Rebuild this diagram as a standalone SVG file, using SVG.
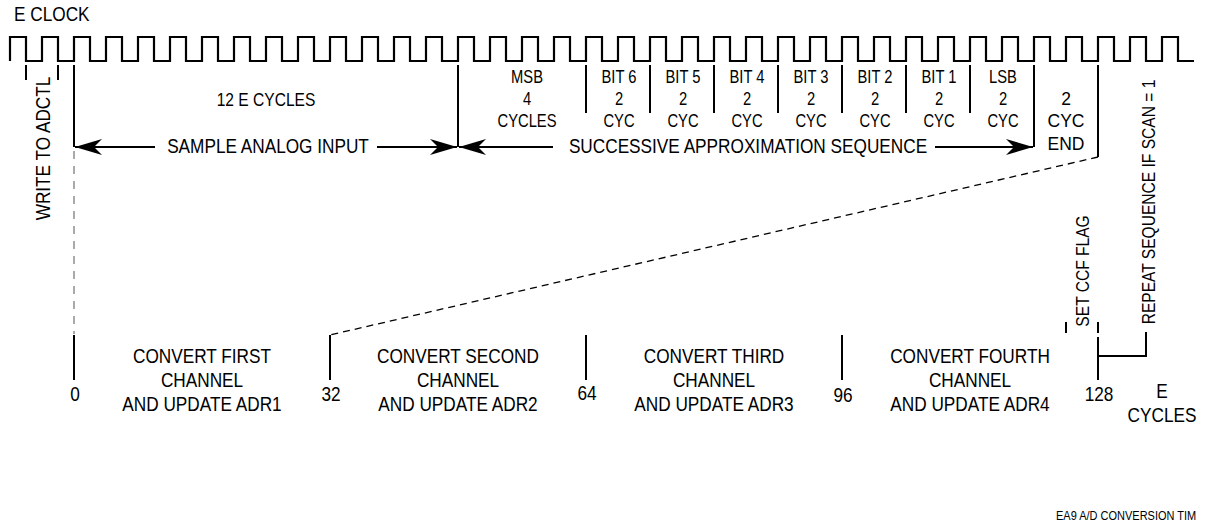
<svg xmlns="http://www.w3.org/2000/svg" width="1205" height="525" viewBox="0 0 1205 525">
<style>
text{font-family:"Liberation Sans",Arial,sans-serif;fill:#000}
.big{font-size:21px}
.sm{font-size:18px}
.mid{text-anchor:middle}
.reg{font-size:17.5px;text-anchor:middle}
.ln{stroke:#000;stroke-width:2;fill:none}
.clk{stroke:#000;stroke-width:2.2;fill:none}
.gray{stroke:#aaaaaa;stroke-width:2;stroke-dasharray:8 7;fill:none}
.dash{stroke:#000;stroke-width:1.3;stroke-dasharray:7 5;fill:none}
.arr{stroke:#000;stroke-width:2;fill:none;marker-end:url(#ah)}
</style>
<defs>
<marker id="ah" markerUnits="userSpaceOnUse" viewBox="-28 -9 29 18" refX="0" refY="0" markerWidth="29" markerHeight="18" orient="auto">
<path d="M0,0 L-27,-8 L-19,0 L-27,8 Z" fill="#000"/>
</marker>
</defs>

<g id="clock">
<text class="big" transform="translate(14,21) scale(0.82,1)">E CLOCK</text>
<path class="clk" d="M10,61 v-24 h16 v24 h16 v-24 h16 v24 h16 v-24 h16 v24 h16 v-24 h16 v24 h16 v-24 h16 v24 h16 v-24 h16 v24 h16 v-24 h16 v24 h16 v-24 h16 v24 h16 v-24 h16 v24 h16 v-24 h16 v24 h16 v-24 h16 v24 h16 v-24 h16 v24 h16 v-24 h16 v24 h16 v-24 h16 v24 h16 v-24 h16 v24 h16 v-24 h16 v24 h16 v-24 h16 v24 h16 v-24 h16 v24 h16 v-24 h16 v24 h16 v-24 h16 v24 h16 v-24 h16 v24 h16 v-24 h16 v24 h16 v-24 h16 v24 h16 v-24 h16 v24 h16 v-24 h16 v24 h16 v-24 h16 v24 h16 v-24 h16 v24 h16 v-24 h16 v24 h16 v-24 h16 v24 h16 v-24 h16 v24 h16 v-24 h16 v24 h16 v-24 h16 v24 h16 v-24 h16 v24 h16 v-24 h16 v24 h16 v-24 h16 v24 h16 v-24 h16 v24 h16 v-24 h16 v24 h16"/>
</g>

<g id="write-adctl">
<text class="big mid" transform="translate(50,148.5) rotate(-90) scale(0.82,1)">WRITE TO ADCTL</text>
</g>

<g id="sample">
<text class="mid" style="font-size:19px" transform="translate(266,106) scale(0.82,1)">12 E CYCLES</text>
<text class="big mid" transform="translate(268,153) scale(0.82,1)">SAMPLE ANALOG INPUT</text>
</g>

<g id="sar">
<text class="big mid" transform="translate(748,153) scale(0.82,1)">SUCCESSIVE APPROXIMATION SEQUENCE</text>
</g>

<g id="col-msb">
<text class="sm mid" transform="translate(527,83) scale(0.82,1)">MSB</text>
<text class="sm mid" transform="translate(527,105) scale(0.82,1)">4</text>
<text class="sm mid" transform="translate(527,127) scale(0.82,1)">CYCLES</text>
</g>
<g id="col-bit6">
<text class="sm mid" transform="translate(619,83) scale(0.82,1)">BIT 6</text>
<text class="sm mid" transform="translate(619,105) scale(0.82,1)">2</text>
<text class="sm mid" transform="translate(619,127) scale(0.82,1)">CYC</text>
</g>
<g id="col-bit5">
<text class="sm mid" transform="translate(683,83) scale(0.82,1)">BIT 5</text>
<text class="sm mid" transform="translate(683,105) scale(0.82,1)">2</text>
<text class="sm mid" transform="translate(683,127) scale(0.82,1)">CYC</text>
</g>
<g id="col-bit4">
<text class="sm mid" transform="translate(747,83) scale(0.82,1)">BIT 4</text>
<text class="sm mid" transform="translate(747,105) scale(0.82,1)">2</text>
<text class="sm mid" transform="translate(747,127) scale(0.82,1)">CYC</text>
</g>
<g id="col-bit3">
<text class="sm mid" transform="translate(811,83) scale(0.82,1)">BIT 3</text>
<text class="sm mid" transform="translate(811,105) scale(0.82,1)">2</text>
<text class="sm mid" transform="translate(811,127) scale(0.82,1)">CYC</text>
</g>
<g id="col-bit2">
<text class="sm mid" transform="translate(875,83) scale(0.82,1)">BIT 2</text>
<text class="sm mid" transform="translate(875,105) scale(0.82,1)">2</text>
<text class="sm mid" transform="translate(875,127) scale(0.82,1)">CYC</text>
</g>
<g id="col-bit1">
<text class="sm mid" transform="translate(939,83) scale(0.82,1)">BIT 1</text>
<text class="sm mid" transform="translate(939,105) scale(0.82,1)">2</text>
<text class="sm mid" transform="translate(939,127) scale(0.82,1)">CYC</text>
</g>
<g id="col-lsb">
<text class="sm mid" transform="translate(1003,83) scale(0.82,1)">LSB</text>
<text class="sm mid" transform="translate(1003,105) scale(0.82,1)">2</text>
<text class="sm mid" transform="translate(1003,127) scale(0.82,1)">CYC</text>
</g>
<g id="col-end">
<text class="reg" x="1066" y="105">2</text>
<text class="reg" x="1066" y="127">CYC</text>
<text class="reg" x="1066" y="150">END</text>
</g>

<g id="set-ccf">
<text class="mid" style="font-size:19px" transform="translate(1089,271) rotate(-90) scale(0.82,1)">SET CCF FLAG</text>
</g>
<g id="repeat">
<text class="mid" style="font-size:19px" transform="translate(1155,202) rotate(-90) scale(0.82,1)">REPEAT SEQUENCE IF SCAN = 1</text>
</g>

<g id="axis-labels">
<text class="big mid" transform="translate(75,401) scale(0.82,1)">0</text>
<text class="big mid" transform="translate(331,401) scale(0.82,1)">32</text>
<text class="big mid" transform="translate(587,400) scale(0.82,1)">64</text>
<text class="big mid" transform="translate(843,402) scale(0.82,1)">96</text>
<text class="big mid" transform="translate(1099,401) scale(0.82,1)">128</text>
<text class="big mid" transform="translate(1162,398) scale(0.82,1)">E</text>
<text class="big mid" transform="translate(1162,422) scale(0.82,1)">CYCLES</text>
</g>

<g id="ch1">
<text class="big mid" transform="translate(202,363) scale(0.82,1)">CONVERT FIRST</text>
<text class="big mid" transform="translate(202,387) scale(0.82,1)">CHANNEL</text>
<text class="big mid" transform="translate(202,411) scale(0.82,1)">AND UPDATE ADR1</text>
</g>
<g id="ch2">
<text class="big mid" transform="translate(458,363) scale(0.82,1)">CONVERT SECOND</text>
<text class="big mid" transform="translate(458,387) scale(0.82,1)">CHANNEL</text>
<text class="big mid" transform="translate(458,411) scale(0.82,1)">AND UPDATE ADR2</text>
</g>
<g id="ch3">
<text class="big mid" transform="translate(714,363) scale(0.82,1)">CONVERT THIRD</text>
<text class="big mid" transform="translate(714,387) scale(0.82,1)">CHANNEL</text>
<text class="big mid" transform="translate(714,411) scale(0.82,1)">AND UPDATE ADR3</text>
</g>
<g id="ch4">
<text class="big mid" transform="translate(970,363) scale(0.82,1)">CONVERT FOURTH</text>
<text class="big mid" transform="translate(970,387) scale(0.82,1)">CHANNEL</text>
<text class="big mid" transform="translate(970,411) scale(0.82,1)">AND UPDATE ADR4</text>
</g>

<g id="caption">
<text style="font-size:13.4px" transform="translate(1056,520) scale(0.82,1)">EA9 A/D CONVERSION TIM</text>
</g>

<g id="connectors">
<line class="ln" x1="26" y1="65" x2="26" y2="80"/>
<line class="ln" x1="58" y1="65" x2="58" y2="80"/>
<line class="ln" x1="74" y1="65" x2="74" y2="147"/>
<line class="gray" x1="74" y1="151" x2="74" y2="334"/>
<line class="ln" x1="458" y1="65" x2="458" y2="147"/>
<line class="ln" x1="586" y1="65" x2="586" y2="113"/>
<line class="ln" x1="650" y1="65" x2="650" y2="113"/>
<line class="ln" x1="714" y1="65" x2="714" y2="113"/>
<line class="ln" x1="778" y1="65" x2="778" y2="113"/>
<line class="ln" x1="842" y1="65" x2="842" y2="113"/>
<line class="ln" x1="906" y1="65" x2="906" y2="113"/>
<line class="ln" x1="970" y1="65" x2="970" y2="113"/>
<line class="ln" x1="1034" y1="65" x2="1034" y2="147"/>
<line class="ln" x1="1098" y1="65" x2="1098" y2="157"/>
<line class="arr" x1="155" y1="147" x2="75" y2="147"/>
<line class="arr" x1="377" y1="147" x2="457" y2="147"/>
<line class="arr" x1="553" y1="147" x2="459" y2="147"/>
<line class="arr" x1="935" y1="147" x2="1033" y2="147"/>
<line class="dash" x1="1098" y1="157" x2="330" y2="335"/>
<line class="ln" x1="74" y1="335" x2="74" y2="380"/>
<line class="ln" x1="330" y1="335" x2="330" y2="380"/>
<line class="ln" x1="586" y1="335" x2="586" y2="380"/>
<line class="ln" x1="842" y1="335" x2="842" y2="380"/>
<line class="ln" x1="1066" y1="322" x2="1066" y2="333"/>
<line class="ln" x1="1098" y1="322" x2="1098" y2="333"/>
<line class="ln" x1="1098" y1="337" x2="1098" y2="380"/>
<polyline class="ln" points="1098,356 1146,356 1146,332"/>
</g>
</svg>
